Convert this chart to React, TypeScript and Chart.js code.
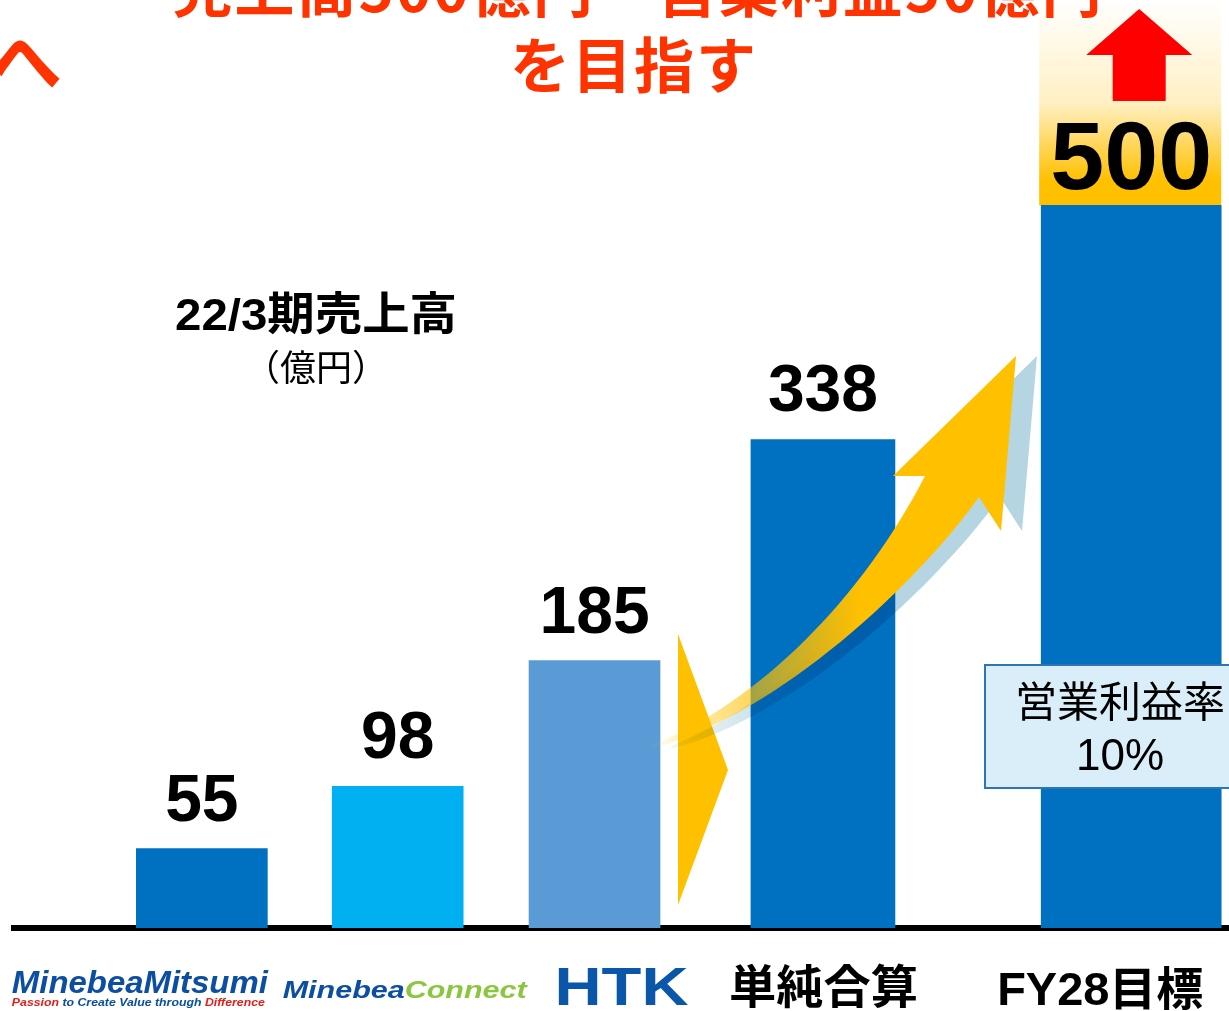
import React, { useEffect, useRef } from 'react';
import { Chart, registerables, CategoryScale } from 'chart.js';

Chart.register(...registerables);

// ---------- data ----------
const categories = ['MinebeaMitsumi', 'MinebeaConnect', 'HTK', '単純合算', 'FY28目標'];
const sales = [55, 98, 185, 338, 500];
const barColors = ['#0070C0', '#00B0F0', '#5B9BD5', '#0070C0', '#0070C0'];
const titleLines = ['売上高500億円　営業利益50億円', 'を目指す'];
const leadText = 'へ';
const unitTitle = '22/3期売上高';
const unitSub = '（億円）';
const marginLines = ['営業利益率', '10%'];
const taglineParts = ['Passion', ' to Create Value through ', 'Difference'];
const connectParts = ['Minebea', 'Connect'];

// ---------- layout (style, not data) ----------
const barCenters = [0.1546, 0.3158, 0.4778, 0.6658, 0.9195];
const barWidths = [131, 131, 131, 144, 180];

const BLUE_LOGO = '#0B4EA2';
const RED_LOGO = '#E0201B';
const GREEN_LOGO = '#8CC63F';
const TITLE_RED = '#FF3300';
const JP = '"Noto Sans CJK JP", "Noto Sans", sans-serif';
const AR = '"Liberation Sans", Arial, sans-serif';

class WeightedCategoryScale extends (CategoryScale as any) {
  static id = 'weightedCategory';
  static defaults = (CategoryScale as any).defaults;
  getPixelForValue(value: any, index?: number) {
    const v = typeof value === 'number' ? value : (this as any).parse(value, index);
    const centers = (this as any).options.centers;
    if (centers && v != null && centers[v] != null) {
      return (this as any).getPixelForDecimal(centers[v]);
    }
    return super.getPixelForValue(value, index);
  }
}
Chart.register(WeightedCategoryScale as any);

type Seg = { text: string; color: string; font: string };

// split a string into latin (Arial) and CJK runs
function mixedSegs(text: string, color: string, size: number, weight: string): Seg[] {
  const out: Seg[] = [];
  const re = /[\x00-\x7F]+|[^\x00-\x7F]+/g;
  let m: RegExpExecArray | null;
  while ((m = re.exec(text))) {
    const ascii = /^[\x00-\x7F]/.test(m[0]);
    out.push({ text: m[0], color, font: `${weight} ${size}px ${ascii ? AR : JP}` });
  }
  return out;
}

function measureSegs(ctx: CanvasRenderingContext2D, segs: Seg[]) {
  let total = 0;
  for (const s of segs) {
    ctx.font = s.font;
    total += ctx.measureText(s.text).width;
  }
  return total;
}

function drawSegs(ctx: CanvasRenderingContext2D, segs: Seg[], left: number, baseline: number, k = 1) {
  ctx.save();
  ctx.textAlign = 'left';
  ctx.textBaseline = 'alphabetic';
  ctx.translate(left, baseline);
  ctx.scale(k, 1);
  let x = 0;
  for (const s of segs) {
    ctx.font = s.font;
    ctx.fillStyle = s.color;
    ctx.fillText(s.text, x, 0);
    x += ctx.measureText(s.text).width;
  }
  ctx.restore();
}

function drawFitted(ctx: CanvasRenderingContext2D, segs: Seg[], left: number, baseline: number, width: number) {
  const total = measureSegs(ctx, segs);
  drawSegs(ctx, segs, left, baseline, width / total);
}

function curvedArrowPath(ctx: CanvasRenderingContext2D, dx: number) {
  ctx.beginPath();
  ctx.moveTo(650 + dx, 746);
  ctx.bezierCurveTo(760 + dx, 702, 862 + dx, 598, 925 + dx, 476);
  ctx.lineTo(893 + dx, 476);
  ctx.lineTo(1016 + dx, 356);
  ctx.lineTo(1001 + dx, 531);
  ctx.lineTo(979 + dx, 497);
  ctx.bezierCurveTo(920 + dx, 580, 780 + dx, 715, 650 + dx, 749);
  ctx.closePath();
}

function fadeGradient(ctx: CanvasRenderingContext2D, rgb: string) {
  const g = ctx.createLinearGradient(650, 0, 860, 0);
  g.addColorStop(0, `rgba(${rgb},0)`);
  g.addColorStop(0.2, `rgba(${rgb},0.3)`);
  g.addColorStop(0.5, `rgba(${rgb},0.65)`);
  g.addColorStop(1, `rgba(${rgb},1)`);
  return g;
}

const decorPlugin = {
  id: 'decor',
  beforeDatasetsDraw(chart: any) {
    const ctx: CanvasRenderingContext2D = chart.ctx;
    const el = chart.getDatasetMeta(4).data[4];
    if (!el) return;
    const left = el.x - el.width / 2 - 2;
    const right = el.x + el.width / 2;
    ctx.save();
    const g = ctx.createLinearGradient(0, 0, 0, el.y);
    g.addColorStop(0, '#FFFFFF');
    g.addColorStop(0.5, '#FFF0C4');
    g.addColorStop(0.88, '#FFC000');
    g.addColorStop(1, '#FFC000');
    ctx.fillStyle = g;
    ctx.fillRect(left, 0, right - left, el.y);
    // red up arrow
    const ax = el.x + 8;
    ctx.fillStyle = '#FF0000';
    ctx.beginPath();
    ctx.moveTo(ax, 9);
    ctx.lineTo(ax + 53, 55);
    ctx.lineTo(ax + 26.5, 55);
    ctx.lineTo(ax + 26.5, 101);
    ctx.lineTo(ax - 26.5, 101);
    ctx.lineTo(ax - 26.5, 55);
    ctx.lineTo(ax - 53, 55);
    ctx.closePath();
    ctx.fill();
    ctx.restore();
  },
  afterDatasetsDraw(chart: any) {
    const ctx: CanvasRenderingContext2D = chart.ctx;
    const els = categories.map((_, i) => chart.getDatasetMeta(i).data[i]);
    ctx.save();

    // chevron
    ctx.fillStyle = '#FFC000';
    ctx.beginPath();
    ctx.moveTo(678, 634);
    ctx.lineTo(728, 770);
    ctx.lineTo(678, 905);
    ctx.closePath();
    ctx.fill();

    // curved arrow shadow
    ctx.globalCompositeOperation = 'multiply';
    ctx.fillStyle = fadeGradient(ctx, '180,213,225');
    curvedArrowPath(ctx, 21);
    ctx.fill();
    ctx.globalCompositeOperation = 'source-over';

    // curved arrow
    ctx.fillStyle = fadeGradient(ctx, '255,192,0');
    curvedArrowPath(ctx, 0);
    ctx.fill();

    // margin box
    ctx.fillStyle = '#DAEEF9';
    ctx.fillRect(985, 665, 250, 123);
    ctx.strokeStyle = '#2E75B6';
    ctx.lineWidth = 2;
    ctx.strokeRect(985, 665, 250, 123);
    ctx.fillStyle = '#000';
    ctx.textAlign = 'center';
    ctx.textBaseline = 'alphabetic';
    ctx.font = `42px ${JP}`;
    ctx.fillText(marginLines[0], 1120, 717);
    ctx.font = `44px ${AR}`;
    ctx.fillText(marginLines[1], 1120, 770);

    // value labels
    els.forEach((el: any, i: number) => {
      if (!el) return;
      ctx.fillStyle = '#000';
      ctx.textAlign = 'center';
      if (i === 4) {
        ctx.font = `bold 97px ${AR}`;
        ctx.fillText(String(sales[i]), el.x, el.y - 16);
      } else {
        ctx.font = `bold 66px ${AR}`;
        ctx.fillText(String(sales[i]), el.x, el.y - 28);
      }
    });

    // unit text
    drawFitted(ctx, mixedSegs(unitTitle, '#000', 45, 'bold'), 175, 330, 282);
    ctx.textAlign = 'center';
    ctx.fillStyle = '#000';
    ctx.font = `36px ${JP}`;
    ctx.fillText(unitSub, 316, 381);

    // title
    ctx.fillStyle = TITLE_RED;
    ctx.font = `bold 60px ${JP}`;
    (ctx as any).letterSpacing = '2px';
    ctx.fillText(titleLines[0], 638, 12);
    ctx.fillText(titleLines[1], 634, 88);
    ctx.textAlign = 'left';
    ctx.font = `bold 72px ${JP}`;
    ctx.fillText(leadText, -10, 88);
    (ctx as any).letterSpacing = '0px';

    // category labels (logos / text)
    const cx = els.map((el: any) => (el ? el.x : 0));
    drawFitted(ctx, [{ text: categories[0], color: BLUE_LOGO, font: `italic bold 32px ${AR}` }], cx[0] - 190, 993, 256);
    drawFitted(
      ctx,
      [
        { text: taglineParts[0], color: RED_LOGO, font: `italic bold 11px ${AR}` },
        { text: taglineParts[1], color: BLUE_LOGO, font: `italic bold 11px ${AR}` },
        { text: taglineParts[2], color: RED_LOGO, font: `italic bold 11px ${AR}` },
      ],
      cx[0] - 190,
      1006,
      253
    );
    drawFitted(
      ctx,
      [
        { text: connectParts[0], color: BLUE_LOGO, font: `italic bold 24px ${AR}` },
        { text: connectParts[1], color: GREEN_LOGO, font: `italic bold 24px ${AR}` },
      ],
      cx[1] - 115,
      998,
      244
    );
    drawFitted(ctx, [{ text: categories[2], color: '#0A56A8', font: `bold 54px ${AR}` }], cx[2] - 40, 1005, 134);
    drawFitted(ctx, mixedSegs(categories[3], '#000', 46, 'bold'), cx[3] - 94, 1003, 189);
    drawFitted(ctx, mixedSegs(categories[4], '#000', 46, 'bold'), cx[4] - 134, 1005, 206);

    ctx.restore();
  },
};

export default function App() {
  const ref = useRef<HTMLCanvasElement>(null);
  useEffect(() => {
    const canvas = ref.current;
    if (!canvas) return;
    const chart = new Chart(canvas, {
      type: 'bar',
      data: {
        labels: categories,
        datasets: categories.map((c, i) => ({
          label: c,
          data: sales.map((v, j) => (j === i ? v : null)),
          backgroundColor: barColors[i],
          barThickness: barWidths[i],
          maxBarThickness: barWidths[i],
          grouped: false,
          borderWidth: 0,
        })) as any,
      },
      options: {
        responsive: false,
        animation: false,
        layout: { padding: { top: 3, left: 14, right: 0, bottom: 83 } },
        plugins: {
          legend: { display: false },
          tooltip: { enabled: false },
          title: { display: false },
        },
        scales: {
          x: {
            type: 'weightedCategory',
            centers: barCenters,
            grid: { display: false, drawTicks: false },
            ticks: { display: false },
            border: { display: true, color: '#000', width: 6 },
            z: 1,
          } as any,
          y: { display: false, min: 0, max: 640 },
        },
      } as any,
      plugins: [decorPlugin as any],
    });
    return () => chart.destroy();
  }, []);
  return (
    <div style={{ position: 'fixed', left: 0, top: 0, width: 1229, height: 1011, background: '#fff' }}>
      <canvas ref={ref} width={1229} height={1011} style={{ display: 'block', width: 1229, height: 1011 }} />
    </div>
  );
}
